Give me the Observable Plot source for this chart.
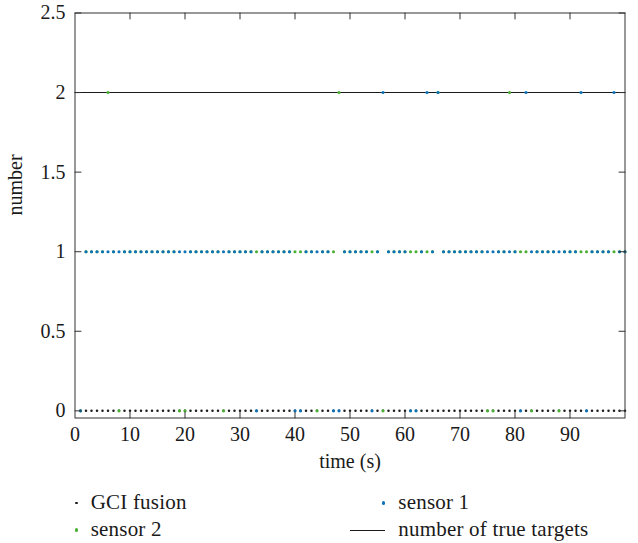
<!DOCTYPE html>
<html><head><meta charset="utf-8">
<script src="https://cdn.jsdelivr.net/npm/d3@7"></script>
<script src="https://cdn.jsdelivr.net/npm/@observablehq/plot@0.6"></script>
<style>
body{margin:0;background:#fff;}
#wrap{position:relative;width:638px;height:543px;font-family:"Liberation Serif",serif;overflow:hidden;}
#legend{position:absolute;left:0;top:478px;width:638px;height:65px;}
.lab{position:absolute;font-size:21px;line-height:21px;letter-spacing:0.2px;color:#1a1a1a;white-space:nowrap;}
.sw{position:absolute;}
</style></head><body>
<div id="wrap"><div id="chart"></div><div id="legend"></div></div>
<script>
const time = [
  1,2,3,4,5,6,7,8,9,10,
  11,12,13,14,15,16,17,18,19,20,
  21,22,23,24,25,26,27,28,29,30,
  31,32,33,34,35,36,37,38,39,40,
  41,42,43,44,45,46,47,48,49,50,
  51,52,53,54,55,56,57,58,59,60,
  61,62,63,64,65,66,67,68,69,70,
  71,72,73,74,75,76,77,78,79,80,
  81,82,83,84,85,86,87,88,89,90,
  91,92,93,94,95,96,97,98,99,100
];
const gciFusion = [
  0,0,0,0,0,0,0,0,0,0,
  0,0,0,0,0,0,0,0,0,0,
  0,0,0,0,0,0,0,0,0,0,
  0,0,0,0,0,0,0,0,0,0,
  0,0,0,0,0,0,0,0,0,0,
  0,0,0,0,0,0,0,0,0,0,
  0,0,0,0,0,0,0,0,0,0,
  0,0,0,0,0,0,0,0,0,0,
  0,0,0,0,0,0,0,0,0,0,
  0,0,0,0,0,0,0,0,0,0
];
const sensor1 = [
  0,1,1,1,1,1,1,1,1,1,
  1,1,1,1,1,1,1,1,1,1,
  1,1,1,1,1,1,1,1,1,1,
  1,1,0,1,1,1,1,1,1,0,
  0,1,1,1,1,1,0,0,1,1,
  1,1,1,0,1,2,1,1,1,1,
  0,0,1,2,1,2,1,1,1,1,
  1,1,1,1,1,1,1,1,1,1,
  0,2,1,1,1,1,1,1,1,1,
  1,2,0,1,1,1,1,2,1,1
];
const sensor2 = [
  0,1,1,1,1,2,1,0,1,1,
  1,1,1,1,1,1,1,1,0,0,
  1,1,1,1,1,1,0,1,1,1,
  1,1,1,1,1,1,1,1,1,1,
  1,1,1,0,1,1,1,2,1,1,
  1,1,1,1,1,0,1,1,1,1,
  1,1,1,1,1,2,1,1,1,1,
  1,1,1,1,0,0,1,1,2,1,
  1,1,0,1,1,1,1,0,1,1,
  1,1,1,1,1,1,1,1,1,1
];
const trueTime = [0, 100];
const trueCount = [2, 2];

const xTicks = [0,10,20,30,40,50,60,70,80,90];
const xTickLabels = ["0","10","20","30","40","50","60","70","80","90"];
const xTickMarks = [10,20,30,40,50,60,70,80,90];
const yTicks = [0,0.5,1,1.5,2,2.5];
const yTickLabels = ["0","0.5","1","1.5","2","2.5"];
const xLabel = "time (s)";
const yLabel = "number";
const seriesNames = ["GCI fusion","sensor 1","sensor 2","number of true targets"];
const seriesColors = ["#1a1a1a","#0d72b8","#4aaf32","#1a1a1a"];

const gciData = time.map((t,i)=>({t, v:gciFusion[i]}));
const s1Data = time.map((t,i)=>({t, v:sensor1[i]}));
const s2Data = time.map((t,i)=>({t, v:sensor2[i]}));
const truthData = trueTime.map((t,i)=>({t, v:trueCount[i]}));

const tickShape = {draw(context, l){ context.moveTo(0,0); context.lineTo(0,-l); }};
const axisColor = "#333";
const tl = 6;

const chart = Plot.plot({
  width: 638,
  height: 478,
  marginLeft: 74.5,
  marginRight: 13.5,
  marginTop: 12.5,
  marginBottom: 60.5,
  style: {fontFamily: "Liberation Serif, serif", fontSize: "20px", color: "#1a1a1a", background: "#fff"},
  x: {domain: [0, 100], label: null},
  y: {domain: [-0.045, 2.5], label: null},
  marks: [
    Plot.axisX({ticks: xTicks, tickSize: 0, tickPadding: 9, tickFormat: d => xTickLabels[xTicks.indexOf(d)], fontSize: 20, fill: "#1a1a1a"}),
    Plot.axisY({ticks: yTicks, tickSize: 0, tickPadding: 9.5, tickFormat: d => yTickLabels[yTicks.indexOf(d)], fontSize: 20, fill: "#1a1a1a"}),
    Plot.dot(gciData, {x: "t", y: "v", r: 1.25, fill: seriesColors[0], stroke: null}),
    Plot.line(truthData, {x: "t", y: "v", stroke: seriesColors[3], strokeWidth: 1.1}),
    Plot.dot(s2Data, {x: "t", y: "v", r: 1.55, fill: seriesColors[2], stroke: null}),
    Plot.dot(s1Data, {x: "t", y: "v", r: 1.55, fill: seriesColors[1], stroke: null}),
    Plot.vector(xTickMarks, {x: d => d, frameAnchor: "bottom", length: tl, rotate: 0, anchor: "start", shape: tickShape, stroke: axisColor, strokeWidth: 1}),
    Plot.vector(xTickMarks, {x: d => d, frameAnchor: "top", length: tl, rotate: 180, anchor: "start", shape: tickShape, stroke: axisColor, strokeWidth: 1}),
    Plot.vector(yTicks, {y: d => d, frameAnchor: "left", length: tl, rotate: 90, anchor: "start", shape: tickShape, stroke: axisColor, strokeWidth: 1}),
    Plot.vector(yTicks, {y: d => d, frameAnchor: "right", length: tl, rotate: -90, anchor: "start", shape: tickShape, stroke: axisColor, strokeWidth: 1}),
    Plot.frame({stroke: axisColor, strokeWidth: 1}),
    Plot.text([xLabel], {frameAnchor: "bottom", dy: 44, lineAnchor: "middle", text: d => d, fontSize: 20, fill: "#1a1a1a"}),
    Plot.text([yLabel], {frameAnchor: "left", dx: -59.5, rotate: -90, lineAnchor: "middle", text: d => d, fontSize: 20, fill: "#1a1a1a"})
  ]
});
document.getElementById("chart").appendChild(chart);

// legend
const legend = document.getElementById("legend");
const legendTop = 478;
const items = [
  {name: seriesNames[0], kind: "dot", color: seriesColors[0], sx: 76.7, tx: 90.7, cy: 503, r: 1.25},
  {name: seriesNames[1], kind: "dot", color: seriesColors[1], sx: 383.3, tx: 398.3, cy: 503, r: 1.55},
  {name: seriesNames[2], kind: "dot", color: seriesColors[2], sx: 76.7, tx: 90.7, cy: 530, r: 1.55},
  {name: seriesNames[3], kind: "line", color: seriesColors[3], sx: 350, ex: 385, tx: 398.3, cy: 530}
];
for (const it of items) {
  const y = it.cy - legendTop;
  const sw = document.createElement("div");
  sw.className = "sw";
  if (it.kind === "dot") {
    const d = it.r * 2;
    Object.assign(sw.style, {left: (it.sx - it.r) + "px", top: (y - it.r) + "px", width: d + "px", height: d + "px", borderRadius: "50%", background: it.color});
  } else {
    Object.assign(sw.style, {left: it.sx + "px", top: (y - 0.5) + "px", width: (it.ex - it.sx) + "px", height: "1.1px", background: it.color});
  }
  legend.appendChild(sw);
  const lab = document.createElement("div");
  lab.className = "lab";
  lab.textContent = it.name;
  Object.assign(lab.style, {left: it.tx + "px", top: (y - 11.5) + "px"});
  legend.appendChild(lab);
}
</script>
</body></html>
